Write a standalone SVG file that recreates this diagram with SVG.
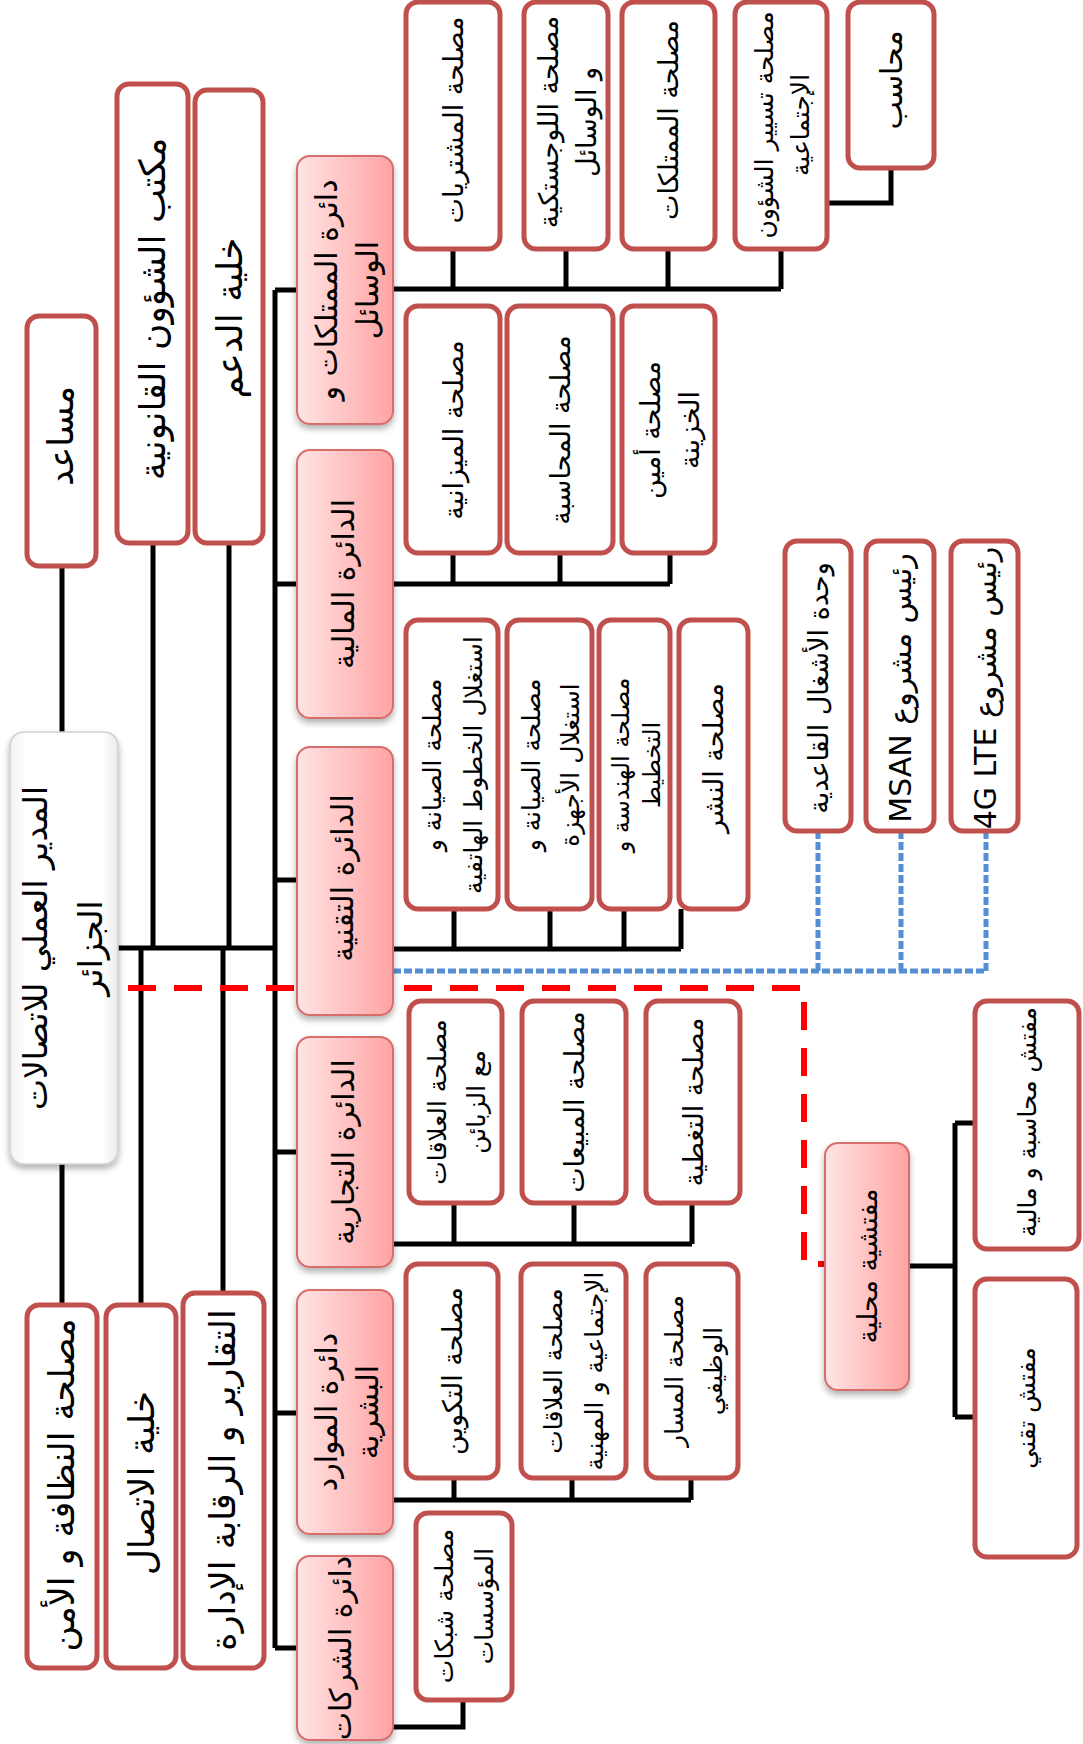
<svg xmlns="http://www.w3.org/2000/svg" width="1083" height="1744" viewBox="0 0 1083 1744">
<style>
.rb{fill:#fff;stroke:#C0504D;stroke-width:5}
.pb{fill:url(#pg);stroke:#D66E6C;stroke-width:2;filter:url(#sh)}
.mb{fill:url(#mg);stroke:#CFCFCF;stroke-width:1.5;filter:url(#sh)}
.ln{stroke:#000;stroke-width:5;fill:none}
.rd{stroke:#FF0000;stroke-width:6;stroke-dasharray:28 18;fill:none}
.bd{stroke:#558ED5;stroke-width:5;stroke-dasharray:8 3;fill:none}
text{font-family:"DejaVu Sans","Noto Sans",sans-serif;fill:#000;text-anchor:middle;dominant-baseline:central;direction:rtl}
.f36{font-size:36px}.f35{font-size:35px}.f33{font-size:33px}.f30{font-size:30px}.f27{font-size:27px}.f25{font-size:25px}.f24{font-size:24px}
</style>
<defs>
<linearGradient id="pg" x1="0" y1="0" x2="1" y2="0"><stop offset="0" stop-color="#FFE4E4"/><stop offset="1" stop-color="#FFA3A3"/></linearGradient>
<linearGradient id="mg" x1="0" y1="0" x2="1" y2="0"><stop offset="0" stop-color="#F2F2F2"/><stop offset="0.15" stop-color="#FFFFFF"/><stop offset="0.85" stop-color="#FFFFFF"/><stop offset="1" stop-color="#EBEBEB"/></linearGradient>
<filter id="sh" x="-20%" y="-20%" width="140%" height="140%"><feDropShadow dx="0" dy="4" stdDeviation="3" flood-color="#000" flood-opacity="0.3"/></filter>
</defs>
<rect width="1083" height="1744" fill="#fff"/>
<g id="connectors">
<path class="ln" d="M117,948H275M62,566V732M62,1162V1305M153,543V948M229,543V948M141,948V1305M223,948V1293"/>
<path class="ln" d="M275,290V1648M275,290H297M275,584H297M275,880H297M275,1152H297M275,1413H297M275,1648H297"/>
<path class="ln" d="M393,289H781M453,249V289M566,249V289M668,249V289M781,249V289M891,168V203H827"/>
<path class="ln" d="M393,584H670M453,553V584M560,553V584M670,553V584"/>
<path class="ln" d="M393,949H681M454,909V949M550,909V949M624,909V949M681,909V949"/>
<path class="ln" d="M393,1244H692M454,1203V1244M574,1203V1244M692,1203V1244"/>
<path class="ln" d="M393,1500H691M454,1478V1500M572,1478V1500M691,1478V1500"/>
<path class="ln" d="M393,1727H463V1700"/>
<path class="ln" d="M909,1266H955M955,1123V1417M955,1123H975M955,1417H975"/>
<path class="rd" d="M128,988H804V1264H825"/>
<path class="bd" d="M393,971H986M818,831V971M901,831V971M986,831V971"/>
</g>
<g id="n-main"><rect class="mb" x="10" y="732" width="108" height="432" rx="14"/>
<text class="f33" transform="translate(64,948) rotate(-90)"><tspan x="0" y="-29">المدير العملي للاتصالات</tspan><tspan x="0" y="26">الجزائر</tspan></text></g>
<g id="n-asst"><rect class="rb" x="27" y="316" width="69" height="250" rx="12"/>
<text class="f35" transform="translate(61,436) rotate(-90)">مساعد</text></g>
<g id="n-legal"><rect class="rb" x="117" y="84" width="71" height="459" rx="12"/>
<text class="f36" transform="translate(152,309) rotate(-90)">مكتب الشؤون القانونية</text></g>
<g id="n-support"><rect class="rb" x="195" y="90" width="68" height="453" rx="12"/>
<text class="f36" transform="translate(229,318) rotate(-90)">خلية الدعم</text></g>
<g id="n-clean"><rect class="rb" x="27" y="1305" width="70" height="363" rx="12"/>
<text class="f35" transform="translate(62,1485) rotate(-90)">مصلحة النظافة و الأمن</text></g>
<g id="n-comm"><rect class="rb" x="106" y="1305" width="70" height="363" rx="12"/>
<text class="f36" transform="translate(141,1483) rotate(-90)">خلية الاتصال</text></g>
<g id="n-reports"><rect class="rb" x="183" y="1293" width="81" height="375" rx="12"/>
<text class="f35" transform="translate(223,1480) rotate(-90)">التقارير و الرقابة الإدارة</text></g>
<g id="n-p1"><rect class="pb" x="297" y="156" width="96" height="268" rx="13"/>
<text class="f30" transform="translate(345,290) rotate(-90)"><tspan x="0" y="-19">دائرة الممتلكات و</tspan><tspan x="0" y="22">الوسائل</tspan></text></g>
<g id="n-p2"><rect class="pb" x="297" y="450" width="96" height="268" rx="13"/>
<text class="f30" transform="translate(343,584) rotate(-90)">الدائرة المالية</text></g>
<g id="n-p3"><rect class="pb" x="297" y="747" width="96" height="268" rx="13"/>
<text class="f30" transform="translate(342,878) rotate(-90)">الدائرة التقنية</text></g>
<g id="n-p4"><rect class="pb" x="297" y="1037" width="96" height="230" rx="13"/>
<text class="f30" transform="translate(343,1152) rotate(-90)">الدائرة التجارية</text></g>
<g id="n-p5"><rect class="pb" x="297" y="1290" width="96" height="244" rx="13"/>
<text class="f30" transform="translate(345,1412) rotate(-90)"><tspan x="0" y="-19">دائرة الموارد</tspan><tspan x="0" y="22">البشرية</tspan></text></g>
<g id="n-p6"><rect class="pb" x="297" y="1556" width="96" height="184" rx="13"/>
<text class="f30" transform="translate(340,1648) rotate(-90)">دائرة الشركات</text></g>
<g id="n-s1"><rect class="rb" x="406" y="2" width="94" height="247" rx="12"/>
<text class="f27" transform="translate(453,120) rotate(-90)">مصلحة المشتريات</text></g>
<g id="n-s2"><rect class="rb" x="524" y="2" width="84" height="247" rx="12"/>
<text class="f27" transform="translate(566,122) rotate(-90)"><tspan x="0" y="-18">مصلحة اللوجستكية</tspan><tspan x="0" y="20">و الوسائل</tspan></text></g>
<g id="n-s3"><rect class="rb" x="622" y="2" width="93" height="247" rx="12"/>
<text class="f27" transform="translate(668,120) rotate(-90)">مصلحة الممتلكات</text></g>
<g id="n-s4"><rect class="rb" x="735" y="2" width="92" height="247" rx="12"/>
<text class="f25" transform="translate(781,125) rotate(-90)"><tspan x="0" y="-17">مصلحة تسيير الشؤون</tspan><tspan x="0" y="19">الإجتماعية</tspan></text></g>
<g id="n-s5"><rect class="rb" x="848" y="2" width="86" height="166" rx="12"/>
<text class="f30" transform="translate(891,80) rotate(-90)">محاسب</text></g>
<g id="n-f1"><rect class="rb" x="406" y="306" width="94" height="247" rx="12"/>
<text class="f27" transform="translate(453,430) rotate(-90)">مصلحة الميزانية</text></g>
<g id="n-f2"><rect class="rb" x="507" y="306" width="106" height="247" rx="12"/>
<text class="f27" transform="translate(560,430) rotate(-90)">مصلحة المحاسبة</text></g>
<g id="n-f3"><rect class="rb" x="622" y="306" width="93" height="247" rx="12"/>
<text class="f27" transform="translate(668,430) rotate(-90)"><tspan x="0" y="-18">مصلحة أمين</tspan><tspan x="0" y="21">الخزينة</tspan></text></g>
<g id="n-t1"><rect class="rb" x="406" y="620" width="92" height="289" rx="12"/>
<text class="f25" transform="translate(452,765) rotate(-90)"><tspan x="0" y="-20">مصلحة الصيانة و</tspan><tspan x="0" y="21">استغلال الخطوط الهاتفية</tspan></text></g>
<g id="n-t2"><rect class="rb" x="507" y="620" width="85" height="289" rx="12"/>
<text class="f25" transform="translate(550,765) rotate(-90)"><tspan x="0" y="-19">مصلحة الصيانة و</tspan><tspan x="0" y="20">استغلال الأجهزة</tspan></text></g>
<g id="n-t3"><rect class="rb" x="599" y="620" width="71" height="289" rx="12"/>
<text class="f24" transform="translate(635,765) rotate(-90)"><tspan x="0" y="-14">مصلحة الهندسة و</tspan><tspan x="0" y="17">التخطيط</tspan></text></g>
<g id="n-t4"><rect class="rb" x="679" y="620" width="69" height="289" rx="12"/>
<text class="f27" transform="translate(713,758) rotate(-90)">مصلحة النشر</text></g>
<g id="n-w1"><rect class="rb" x="785" y="541" width="66" height="290" rx="12"/>
<text class="f27" transform="translate(818,688) rotate(-90)">وحدة الأشغال القاعدية</text></g>
<g id="n-w2"><rect class="rb" x="866" y="541" width="68" height="290" rx="12"/>
<text class="f30" transform="translate(900,688) rotate(-90)">رئيس مشروع MSAN</text></g>
<g id="n-w3"><rect class="rb" x="951" y="541" width="67" height="290" rx="12"/>
<text class="f30" transform="translate(985,688) rotate(-90)">رئيس مشروع 4G LTE</text></g>
<g id="n-c1"><rect class="rb" x="409" y="1001" width="93" height="202" rx="12"/>
<text class="f25" transform="translate(455,1102) rotate(-90)"><tspan x="0" y="-18">مصلحة العلاقات</tspan><tspan x="0" y="21">مع الزبائن</tspan></text></g>
<g id="n-c2"><rect class="rb" x="522" y="1001" width="104" height="202" rx="12"/>
<text class="f27" transform="translate(574,1102) rotate(-90)">مصلحة المبيعات</text></g>
<g id="n-c3"><rect class="rb" x="646" y="1001" width="94" height="202" rx="12"/>
<text class="f27" transform="translate(693,1102) rotate(-90)">مصلحة التغطية</text></g>
<g id="n-h1"><rect class="rb" x="406" y="1264" width="92" height="214" rx="12"/>
<text class="f27" transform="translate(452,1371) rotate(-90)">مصلحة التكوين</text></g>
<g id="n-h2"><rect class="rb" x="521" y="1264" width="105" height="214" rx="12"/>
<text class="f25" transform="translate(573,1371) rotate(-90)"><tspan x="0" y="-20">مصلحة العلاقات</tspan><tspan x="0" y="21">الإجتماعية و المهنية</tspan></text></g>
<g id="n-h3"><rect class="rb" x="646" y="1264" width="92" height="214" rx="12"/>
<text class="f25" transform="translate(692,1371) rotate(-90)"><tspan x="0" y="-18">مصلحة المسار</tspan><tspan x="0" y="21">الوظيفي</tspan></text></g>
<g id="n-e1"><rect class="rb" x="416" y="1513" width="96" height="187" rx="12"/>
<text class="f25" transform="translate(464,1606) rotate(-90)"><tspan x="0" y="-20">مصلحة شبكات</tspan><tspan x="0" y="20">المؤسسات</tspan></text></g>
<g id="n-insp"><rect class="pb" x="825" y="1143" width="84" height="247" rx="13"/>
<text class="f27" transform="translate(867,1266) rotate(-90)">مفتشية محلية</text></g>
<g id="n-i1"><rect class="rb" x="975" y="1001" width="104" height="248" rx="12"/>
<text class="f25" transform="translate(1027,1122) rotate(-90)">مفتش محاسبة و مالية</text></g>
<g id="n-i2"><rect class="rb" x="975" y="1279" width="102" height="278" rx="12"/>
<text class="f25" transform="translate(1026,1408) rotate(-90)">مفتش تقني</text></g>
</svg>
